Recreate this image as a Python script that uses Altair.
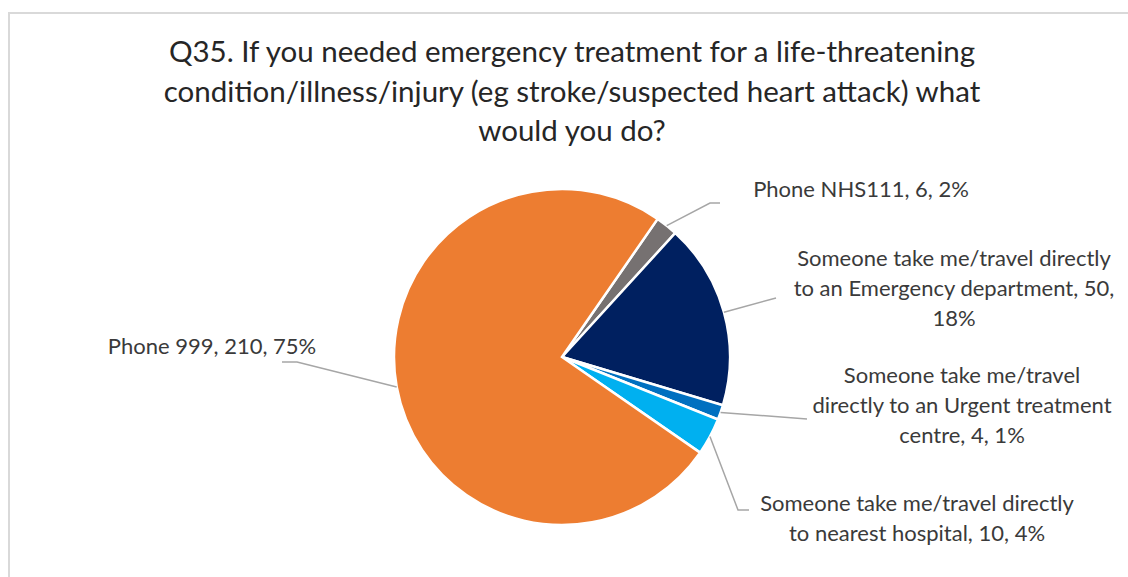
import math
import altair as alt
import pandas as pd

# ---- data ----
categories = [
    "Phone NHS111",
    "Someone take me/travel directly to an Emergency department",
    "Someone take me/travel directly to an Urgent treatment centre",
    "Someone take me/travel directly to nearest hospital",
    "Phone 999",
]
counts = [6, 50, 4, 10, 210]
colors = ["#767171", "#002060", "#0070C0", "#00B0F0", "#ED7D31"]
title_lines = [
    "Q35. If you needed emergency treatment for a life-threatening",
    "condition/illness/injury (eg stroke/suspected heart attack) what",
    "would you do?",
]
# words per wrapped label line (as wrapped in the reference)
wrap_words = [[], [4, 5], [3, 5], [4], []]

# ---- layout ----
W, H = 1128, 577
CX, CY, R = 562, 357, 168
START_DEG = 34.7
FONT = "Lato"
TEXT_COLOR = "#3a3a3a"
LABEL_LH = 30
TITLE_LH = 39.5
# label block centres and leader elbows (layout only)
label_pos = [(861, 190), (954, 289), (962, 406), (917, 519), (212, 347)]
leader_tail = [
    [(710, 203), (720, 203)],
    [(776, 298)],
    [(807, 419)],
    [(738, 510), (749, 510)],
    [(297, 362), (282, 362)],
]

total = sum(counts)
start_rad = math.radians(START_DEG)

def wrap(text, spec):
    words = text.split(" ")
    lines, i = [], 0
    for n in spec:
        lines.append(" ".join(words[i:i + n]))
        i += n
    lines.append(" ".join(words[i:]))
    return "\n".join(lines)

rows, lead_rows, lab_rows = [], [], []
cum = 0
for k, (cat, n) in enumerate(zip(categories, counts)):
    pct = round(n / total * 100)
    rows.append({"cat": cat, "n": n, "idx": k})
    mid = start_rad + 2 * math.pi * (cum + n / 2) / total
    cum += n
    sx = CX + R * math.sin(mid)
    sy = CY - R * math.cos(mid)
    pts = [(sx, sy)] + leader_tail[k]
    for j, (px, py) in enumerate(pts):
        lead_rows.append({"cat": cat, "o": j, "px": px, "py": py})
    text = wrap(f"{cat}, {n}, {pct}%", wrap_words[k])
    nlines = text.count("\n") + 1
    lab_rows.append({
        "cat": cat,
        "label": text,
        "lx": label_pos[k][0],
        "ly": label_pos[k][1] - (nlines - 1) / 2 * LABEL_LH,
    })

pie_df = pd.DataFrame(rows)
lead_df = pd.DataFrame(lead_rows)
lab_df = pd.DataFrame(lab_rows)
title_df = pd.DataFrame({"t": ["\n".join(title_lines)], "tx": [572], "ty": [53]})
frame_df = pd.DataFrame({"x": [9], "y": [13], "x2": [W + 20], "y2": [H + 20]})

noscale_x = lambda f: alt.X(f, scale=None, axis=None)
noscale_y = lambda f: alt.Y(f, scale=None, axis=None)

frame = alt.Chart(frame_df).mark_rect(
    fill="white", stroke="#D9D9D9", strokeWidth=2
).encode(
    x=noscale_x("x:Q"), y=noscale_y("y:Q"), x2="x2:Q", y2="y2:Q"
)

pie = alt.Chart(pie_df).mark_arc(
    outerRadius=R, stroke="white", strokeWidth=2.5
).encode(
    theta=alt.Theta("n:Q", stack=True,
                    scale=alt.Scale(range=[start_rad, start_rad + 2 * math.pi])),
    color=alt.Color("cat:N", scale=alt.Scale(domain=categories, range=colors), legend=None),
    order=alt.Order("idx:Q"),
    x=alt.value(CX),
    y=alt.value(CY),
)

leaders = alt.Chart(lead_df).mark_line(
    color="#A6A6A6", strokeWidth=1.5
).encode(
    x=noscale_x("px:Q"), y=noscale_y("py:Q"), detail="cat:N", order="o:Q"
)

labels = alt.Chart(lab_df).mark_text(
    font=FONT, fontSize=22, lineHeight=LABEL_LH, lineBreak="\n",
    align="center", baseline="middle", color=TEXT_COLOR
).encode(
    x=noscale_x("lx:Q"), y=noscale_y("ly:Q"), text="label:N"
)

title = alt.Chart(title_df).mark_text(
    font=FONT, fontSize=29.5, lineHeight=TITLE_LH, lineBreak="\n",
    align="center", baseline="middle", color="#262626"
).encode(
    x=noscale_x("tx:Q"), y=noscale_y("ty:Q"), text="t:N"
)

chart = alt.layer(frame, pie, leaders, labels, title).properties(
    width=W, height=H,
    padding=0,
    autosize=alt.AutoSizeParams(type="none"),
).configure_view(stroke=None)

chart.save("out.html", embed_options={"renderer": "svg", "actions": False})
